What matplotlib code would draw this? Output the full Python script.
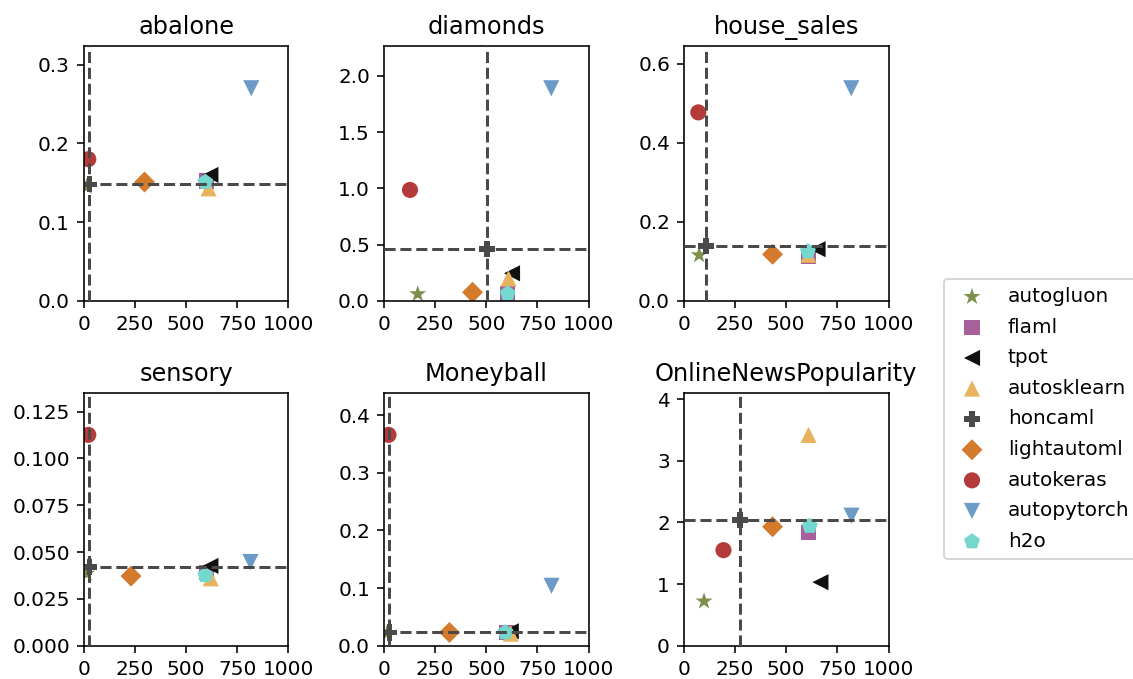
import matplotlib
matplotlib.use("Agg")
import matplotlib.pyplot as plt

frameworks = ["autogluon", "flaml", "tpot", "autosklearn", "honcaml",
              "lightautoml", "autokeras", "autopytorch", "h2o"]
markers = ["*", "s", "<", "^", "P", "D", "o", "v", "p"]
colors = ["#7d8f4c", "#a8609c", "#111111", "#e8b35e", "#4a4a4a",
          "#d47a2c", "#b53b3b", "#6b9bc6", "#74d8cf"]

datasets = ["abalone", "diamonds", "house_sales",
            "sensory", "Moneyball", "OnlineNewsPopularity"]

abalone_x = [13, 598, 618, 609, 26, 296, 21, 818, 593]
abalone_y = [0.145, 0.152, 0.160, 0.143, 0.148, 0.151, 0.180, 0.270, 0.151]
diamonds_x = [165, 605, 626, 609, 503, 433, 127, 818, 605]
diamonds_y = [0.062, 0.068, 0.246, 0.200, 0.462, 0.077, 0.986, 1.889, 0.065]
house_x = [74, 610, 653, 608, 108, 433, 70, 818, 606]
house_y = [0.116, 0.113, 0.131, 0.117, 0.139, 0.118, 0.477, 0.538, 0.125]
sensory_x = [13, 600, 618, 620, 26, 230, 21, 814, 593]
sensory_y = [0.0385, 0.039, 0.0426, 0.036, 0.042, 0.0372, 0.1126, 0.0447, 0.0376]
money_x = [15, 600, 620, 620, 26, 320, 22, 819, 593]
money_y = [0.022, 0.023, 0.025, 0.021, 0.023, 0.023, 0.366, 0.104, 0.023]
news_x = [98, 609, 667, 609, 274, 433, 193, 819, 615]
news_y = [0.72, 1.84, 1.03, 3.42, 2.04, 1.93, 1.55, 2.11, 1.94]

all_x = [abalone_x, diamonds_x, house_x, sensory_x, money_x, news_x]
all_y = [abalone_y, diamonds_y, house_y, sensory_y, money_y, news_y]

yticks = [[0.0, 0.1, 0.2, 0.3],
          [0.0, 0.5, 1.0, 1.5, 2.0],
          [0.0, 0.2, 0.4, 0.6],
          [0.0, 0.025, 0.05, 0.075, 0.1, 0.125],
          [0.0, 0.1, 0.2, 0.3, 0.4],
          [0, 1, 2, 3, 4]]
yfmt = ["%.1f", "%.1f", "%.1f", "%.3f", "%.1f", "%d"]
xticks = [0, 250, 500, 750, 1000]

W, H = 1133, 679
fig = plt.figure(figsize=(W / 144, H / 144), dpi=144)

lefts = [84, 384, 684]
rows = [(45.7, 301), (392.7, 645.7)]
width_px = 204.5

sizes = {"*": 80, "s": 60, "<": 65, "^": 65, "P": 65, "D": 55, "o": 65, "v": 65, "p": 70}

ref_idx = frameworks.index("honcaml")
handles = []
for k, name in enumerate(datasets):
    r, c = divmod(k, 3)
    top, bot = rows[r]
    ax = fig.add_axes([lefts[c] / W, 1 - bot / H, width_px / W, (bot - top) / H])
    xs, ys = all_x[k], all_y[k]
    for i, fw in enumerate(frameworks):
        h = ax.scatter([xs[i]], [ys[i]], marker=markers[i], color=colors[i],
                       s=sizes[markers[i]], edgecolors="none", label=fw, zorder=2)
        if k == 0:
            handles.append(h)
    ax.axvline(xs[ref_idx], color="#4a4a4a", ls="--", lw=1.5, zorder=3)
    ax.axhline(ys[ref_idx], color="#4a4a4a", ls="--", lw=1.5, zorder=3)
    ax.set_xlim(0, 1000)
    ax.set_ylim(0, 1.2 * max(ys))
    ax.set_xticks(xticks)
    ax.set_yticks(yticks[k])
    ax.set_yticklabels([yfmt[k] % v for v in yticks[k]])
    ax.set_title(name, fontsize=12)

fig.legend(handles=handles, labels=frameworks, loc="upper left",
           bbox_to_anchor=(944 / W, 1 - 279 / H), fontsize=10,
           borderaxespad=0, labelspacing=0.58)

fig.savefig("out.png", dpi=144)
